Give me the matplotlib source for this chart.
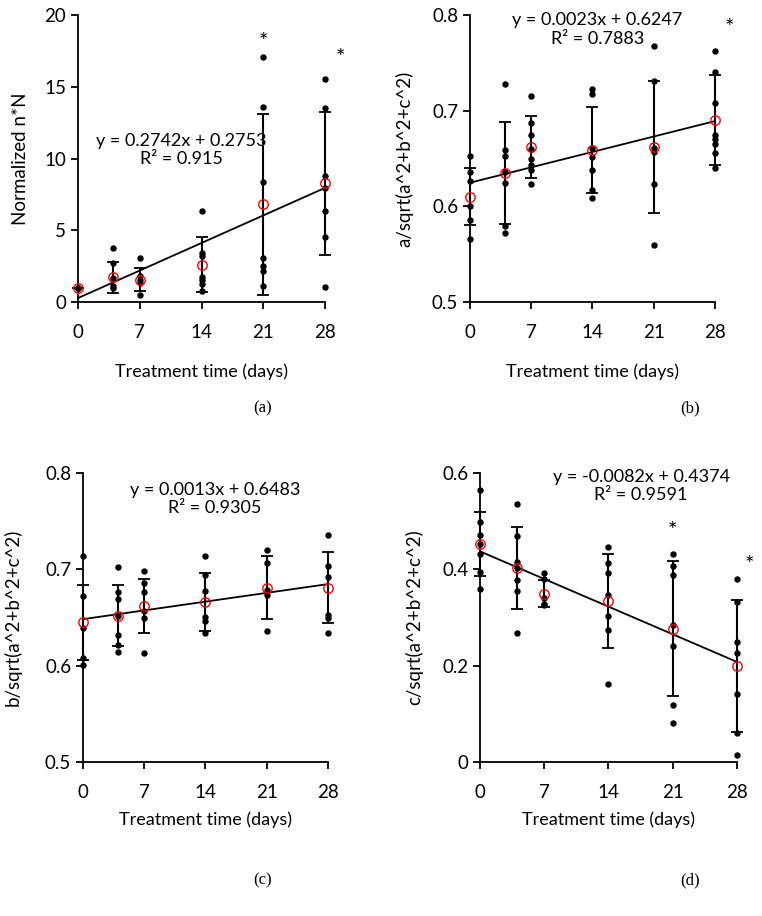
import matplotlib
matplotlib.use('Agg')
import matplotlib.pyplot as plt
from matplotlib.ticker import FuncFormatter

# ---------- DATA ----------
days = [0, 4, 7, 14, 21, 28]
ticks = [0, 7, 14, 21, 28]

# panel (a) normalized n*N
a_points = [[1.0, 1.0, 1.0],
            [3.76, 2.71, 1.67, 1.14, 0.97],
            [3.1, 1.79, 1.55, 1.32, 0.46],
            [6.33, 3.41, 3.18, 1.74, 1.51, 1.28, 0.79],
            [17.05, 13.6, 8.35, 3.06, 2.48, 2.13, 1.14],
            [15.55, 13.55, 8.79, 7.93, 6.33, 4.5, 1.02]]
a_mean = [1.0, 1.72, 1.55, 2.6, 6.8, 8.26]
a_sd = [0.0, 1.1, 0.8, 1.93, 6.33, 5.0]
a_fit = (0.2742, 0.2753, 0.915)

# panel (b) a/sqrt(a^2+b^2+c^2)
b_points = [[0.653, 0.636, 0.626, 0.600, 0.586, 0.566],
            [0.728, 0.659, 0.653, 0.636, 0.624, 0.579, 0.572],
            [0.715, 0.687, 0.675, 0.660, 0.650, 0.643, 0.638, 0.623],
            [0.723, 0.717, 0.661, 0.652, 0.638, 0.617, 0.609],
            [0.768, 0.731, 0.661, 0.657, 0.623, 0.560],
            [0.762, 0.740, 0.708, 0.675, 0.670, 0.665, 0.656, 0.640]]
b_mean = [0.610, 0.635, 0.662, 0.659, 0.662, 0.690]
b_sd = [0.030, 0.053, 0.032, 0.045, 0.069, 0.047]
b_fit = (0.0023, 0.6247, 0.7883)

# panel (c) b/sqrt(a^2+b^2+c^2)
c_points = [[0.714, 0.672, 0.639, 0.608, 0.601],
            [0.702, 0.676, 0.669, 0.652, 0.632, 0.621, 0.614],
            [0.698, 0.686, 0.677, 0.657, 0.649, 0.613],
            [0.714, 0.694, 0.678, 0.651, 0.646, 0.634],
            [0.720, 0.707, 0.679, 0.673, 0.636],
            [0.736, 0.704, 0.692, 0.653, 0.649, 0.634]]
c_mean = [0.645, 0.652, 0.662, 0.666, 0.681, 0.681]
c_sd = [0.039, 0.032, 0.028, 0.030, 0.0325, 0.0365]
c_fit = (0.0013, 0.6483, 0.9305)

# panel (d) c/sqrt(a^2+b^2+c^2)
d_points = [[0.565, 0.499, 0.472, 0.452, 0.431, 0.395, 0.359],
            [0.535, 0.470, 0.415, 0.402, 0.378, 0.355, 0.267],
            [0.392, 0.379, 0.341, 0.329, 0.325],
            [0.447, 0.413, 0.393, 0.347, 0.303, 0.274, 0.163],
            [0.431, 0.406, 0.388, 0.284, 0.241, 0.118, 0.080],
            [0.379, 0.333, 0.250, 0.227, 0.142, 0.060, 0.015]]
d_mean = [0.453, 0.402, 0.349, 0.334, 0.277, 0.200]
d_sd = [0.067, 0.085, 0.028, 0.097, 0.140, 0.137]
d_fit = (-0.0082, 0.4374, 0.9591)

plt.rcParams['font.family'] = ['Lato', 'DejaVu Sans']
plt.rcParams['font.size'] = 12

fig = plt.figure(figsize=(7.62, 9.16), dpi=100)


def panel(rect, points, mean, sd, fit, ylim, yticks, ylabel, eq_xy, stars, cap, cap_xy, ylab_x, xlab_y):
    ax = fig.add_axes(rect)
    for x, pts in zip(days, points):
        ax.plot([x] * len(pts), pts, 'o', color='black', ms=3.6, zorder=3, clip_on=False)
    ax.errorbar(days, mean, yerr=sd, fmt='none', ecolor='black', elinewidth=1.5,
                capsize=4, capthick=1.3, zorder=2, clip_on=False)
    ax.plot(days, mean, 'o', mfc='none', mec='red', ms=6.8, mew=1.0, zorder=4, clip_on=False)
    m, b, r2 = fit
    ax.plot([0, 28], [b, m * 28 + b], color='black', lw=1.3, zorder=2)
    ax.text(eq_xy[0], eq_xy[1], 'y = %.4fx + %.4f\nR² = %g' % (m, b, r2),
            ha='center', va='center', fontsize=13, linespacing=1.2)
    for sx, sy in stars:
        ax.text(sx, sy, '*', ha='center', va='center', fontsize=16)
    ax.set_xlim(0, 28)
    ax.set_ylim(*ylim)
    ax.set_xticks(ticks)
    ax.set_yticks(yticks)
    ax.yaxis.set_major_formatter(FuncFormatter(lambda v, p: '%g' % round(v, 3)))
    ax.tick_params(direction='out', length=5, width=1.3, labelsize=13.5)
    ax.tick_params(axis='x', pad=11)
    ax.spines['top'].set_visible(False)
    ax.spines['right'].set_visible(False)
    ax.spines['left'].set_linewidth(1.3)
    ax.spines['bottom'].set_linewidth(1.3)
    ax.set_xlabel('Treatment time (days)', fontsize=13)
    ax.xaxis.set_label_coords(0.5, xlab_y)
    ax.set_ylabel(ylabel, fontsize=13.5)
    ax.yaxis.set_label_coords(ylab_x, 0.5)
    fig.text(cap_xy[0], cap_xy[1], cap, ha='center', va='center',
             family='Liberation Serif', fontsize=12)
    return ax


panel([0.1024, 0.6703, 0.3241, 0.3133], a_points, a_mean, a_sd, a_fit,
      (0, 20), [0, 5, 10, 15, 20], 'Normalized n*N', (11.75, 10.6),
      [(21, 18.1), (29.7, 17.0)], '(a)', (0.344, 0.554), -0.2, -0.215)
panel([0.6168, 0.6703, 0.3215, 0.3133], b_points, b_mean, b_sd, b_fit,
      (0.5, 0.8), [0.5, 0.6, 0.7, 0.8], 'a/sqrt(a^2+b^2+c^2)', (14.55, 0.785),
      [(29.7, 0.786)], '(b)', (0.906, 0.554), -0.23, -0.215)
panel([0.1089, 0.1681, 0.3215, 0.3155], c_points, c_mean, c_sd, c_fit,
      (0.5, 0.8), [0.5, 0.6, 0.7, 0.8], 'b/sqrt(a^2+b^2+c^2)', (15.1, 0.773),
      [], '(c)', (0.344, 0.039), -0.25, -0.17)
panel([0.6299, 0.1681, 0.3373, 0.3155], d_points, d_mean, d_sd, d_fit,
      (0, 0.6), [0, 0.2, 0.4, 0.6], 'c/sqrt(a^2+b^2+c^2)', (17.55, 0.573),
      [(21, 0.48), (29.3, 0.41)], '(d)', (0.906, 0.039), -0.22, -0.17)

fig.savefig('out.png', dpi=100)
